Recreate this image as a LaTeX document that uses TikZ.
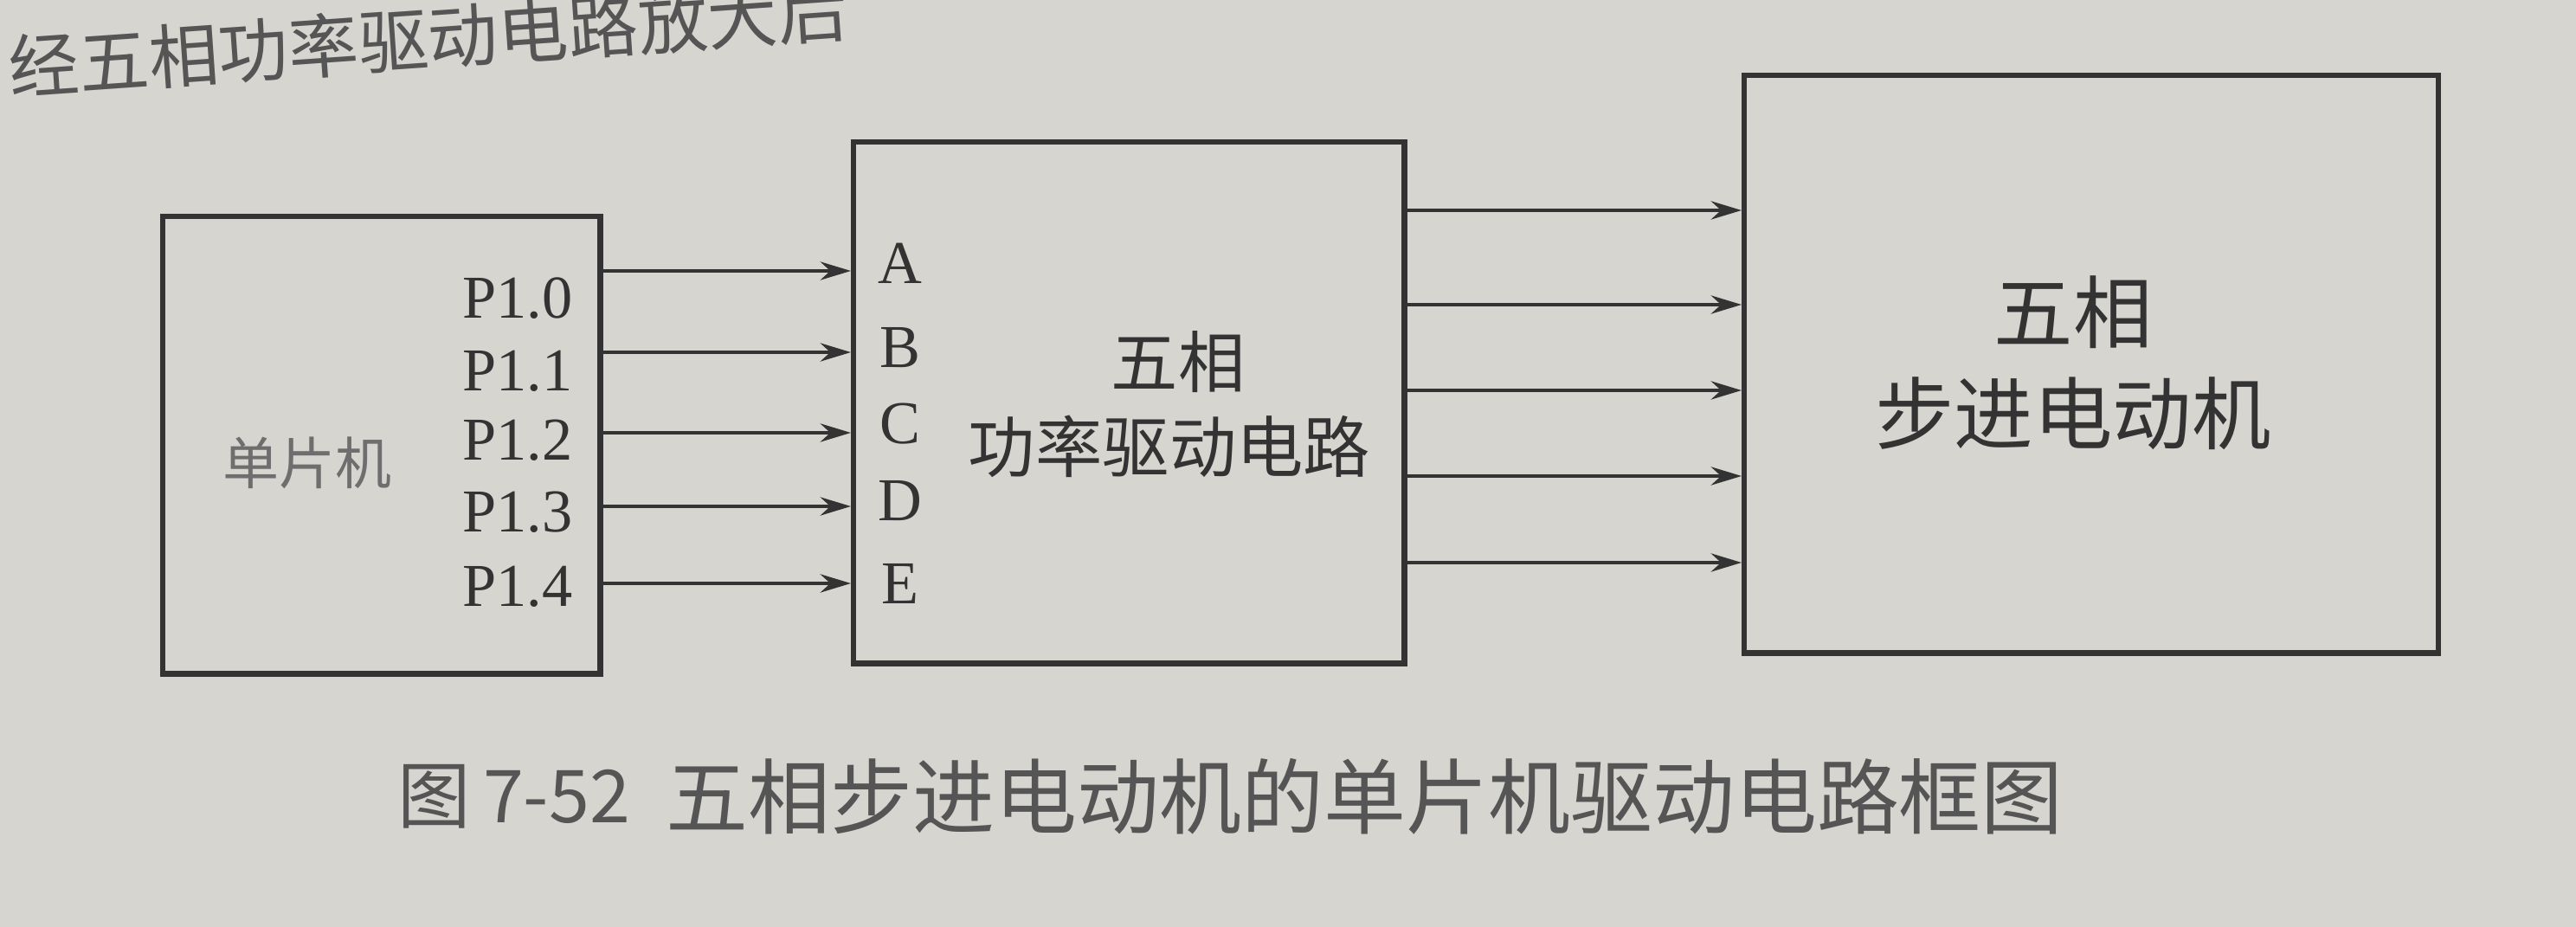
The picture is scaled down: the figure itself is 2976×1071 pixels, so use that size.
\documentclass[tikz,border=0pt]{standalone}
\usepackage{fontspec}
\setmainfont{Liberation Serif}
\newfontfamily\cjk{Noto Sans CJK SC}
\usetikzlibrary{arrows.meta}
\definecolor{paper}{HTML}{D7D5D0}
\definecolor{ink}{HTML}{333333}
\definecolor{inkgray}{HTML}{6E6E6E}
\definecolor{capgray}{HTML}{555555}
\tikzset{
  blk/.style={draw=ink, line width=1.8pt, inner sep=0pt, anchor=north west},
  arr/.style={draw=ink, line width=1.3pt, -{Stealth[length=10pt,width=6pt]}},
  lbl/.style={text=ink, inner sep=0pt, font=\fontsize{20}{22}\selectfont},
  cjkbig/.style={text=ink, inner sep=0pt, align=center, font=\cjk\fontsize{22}{34}\selectfont},
}
\begin{document}
\begin{tikzpicture}[x=0.01cm, y=-0.01cm]
\fill[paper] (0,0) rectangle (2976,1071);
\useasboundingbox (0,0) rectangle (2976,1071);
\clip (0,0) rectangle (2976,1071);

% cut-off line of text above the figure
\node[text=capgray, inner sep=0pt, anchor=west, rotate=4,
      font=\cjk\fontsize{23}{25}\selectfont] (toptext) at (10,78) {经五相功率驱动电路放大后};

% boxes
\node[blk, minimum width=5.05cm, minimum height=5.28cm] (mcu) at (185,247) {};
\node[blk, minimum width=6.36cm, minimum height=6.02cm] (drv) at (983,161) {};
\node[blk, minimum width=8.01cm, minimum height=6.67cm] (motor) at (2012,84) {};

% box texts
\node[text=inkgray, inner sep=0pt, font=\cjk\fontsize{18.5}{20}\selectfont] (mcutxt) at (355,535) {单片机};
\node[cjkbig] (drvtxt1) at (1361,418) {五相};
\node[cjkbig] (drvtxt2) at (1351,516) {功率驱动电路};
\node[cjkbig, font=\cjk\fontsize{26}{30}\selectfont] (mottxt1) at (2395,361) {五相};
\node[cjkbig, font=\cjk\fontsize{26}{30}\selectfont] (mottxt2) at (2395,478) {步进电动机};

% row coordinates
\coordinate (la) at (0,313);
\coordinate (lb) at (0,407);
\coordinate (lc) at (0,500);
\coordinate (ld) at (0,585);
\coordinate (le) at (0,674);
\coordinate (ra) at (0,243);
\coordinate (rb) at (0,352);
\coordinate (rc) at (0,451);
\coordinate (rd) at (0,550);
\coordinate (re) at (0,650);

% port labels
\node[lbl, anchor=east] (p0) at (662,345) {P1.0};
\node[lbl, anchor=east] (p1) at (662,429) {P1.1};
\node[lbl, anchor=east] (p2) at (662,509) {P1.2};
\node[lbl, anchor=east] (p3) at (662,592) {P1.3};
\node[lbl, anchor=east] (p4) at (662,678) {P1.4};

\node[lbl] (qa) at (1040,304) {A};
\node[lbl] (qb) at (1040,402) {B};
\node[lbl] (qc) at (1040,490) {C};
\node[lbl] (qd) at (1040,579) {D};
\node[lbl] (qe) at (1040,674) {E};

% connectors MCU -> driver
\draw[arr] (mcu.east |- la) -- (drv.west |- la);
\draw[arr] (mcu.east |- lb) -- (drv.west |- lb);
\draw[arr] (mcu.east |- lc) -- (drv.west |- lc);
\draw[arr] (mcu.east |- ld) -- (drv.west |- ld);
\draw[arr] (mcu.east |- le) -- (drv.west |- le);

% connectors driver -> motor
\draw[arr] (drv.east |- ra) -- (motor.west |- ra);
\draw[arr] (drv.east |- rb) -- (motor.west |- rb);
\draw[arr] (drv.east |- rc) -- (motor.west |- rc);
\draw[arr] (drv.east |- rd) -- (motor.west |- rd);
\draw[arr] (drv.east |- re) -- (motor.west |- re);

% caption
\node[text=capgray, inner sep=0pt, anchor=west, font=\cjk\fontsize{24}{26}\selectfont] (capnum) at (459,920) {图\,7-52};
\node[text=capgray, inner sep=0pt, anchor=west, font=\cjk\fontsize{27}{30}\selectfont] (captxt) at (769,920) {五相步进电动机的单片机驱动电路框图};
\end{tikzpicture}
\end{document}
